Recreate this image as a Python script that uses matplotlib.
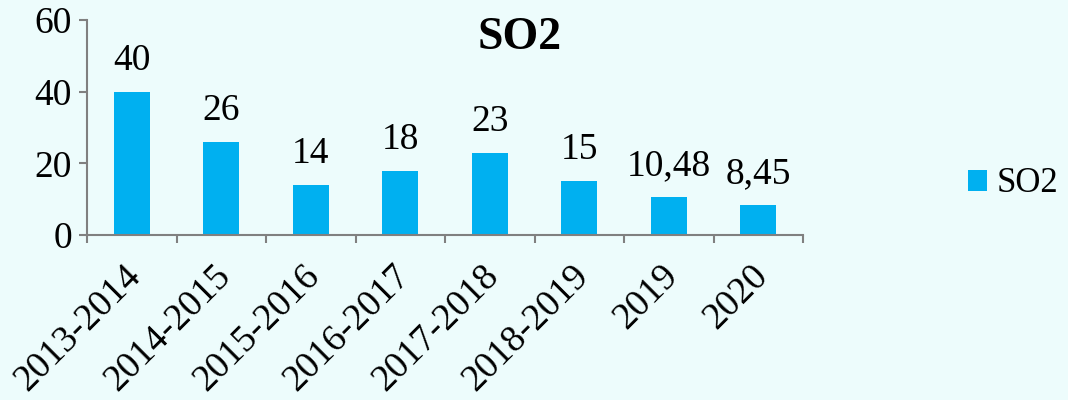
import matplotlib.pyplot as plt
import matplotlib.transforms as mtrans
import numpy as np

categories = ['2013-2014', '2014-2015', '2015-2016', '2016-2017',
              '2017-2018', '2018-2019', '2019', '2020']
so2 = [40, 26, 14, 18, 23, 15, 10.48, 8.45]
labels = ['40', '26', '14', '18', '23', '15', '10,48', '8,45']

bg = '#EDFCFC'
bar_color = '#00B0F0'
grey = '#808080'

plt.rcParams['font.family'] = ['Liberation Serif', 'DejaVu Serif']

fig = plt.figure(figsize=(10.68, 4), dpi=100, facecolor=bg)
ax = fig.add_axes([0.0815, 0.4125, 0.6705, 0.5375])
ax.set_facecolor(bg)

x = np.arange(len(categories))
bars = ax.bar(x, so2, width=0.4, color=bar_color, label='SO2')

for xi, v, lab in zip(x, so2, labels):
    ax.annotate(lab, (xi, v), xytext=(0, 10), textcoords='offset points',
                ha='center', va='bottom', fontsize=27)

ax.set_xlim(-0.5, len(categories) - 0.5)
ax.set_ylim(0, 60)
ax.set_yticks([0, 20, 40, 60])
ax.tick_params(axis='y', labelsize=27, length=6, color=grey, width=1.5, pad=5)

ax.set_xticks(x)
ax.set_xticklabels(categories, rotation=45, ha='right', rotation_mode='anchor', fontsize=27)
ax.tick_params(axis='x', length=0, pad=17)
# nudge the rotated labels a little left
shift = mtrans.ScaledTranslation(-8 / 100, 0, fig.dpi_scale_trans)
for t in ax.get_xticklabels():
    t.set_transform(t.get_transform() + shift)
ax.set_xticks(np.arange(-0.5, len(categories)), minor=True)
ax.tick_params(axis='x', which='minor', length=6, color=grey, width=1.5)

for s in ['top', 'right']:
    ax.spines[s].set_visible(False)
for s in ['left', 'bottom']:
    ax.spines[s].set_color(grey)
    ax.spines[s].set_linewidth(1.5)

fig.text(0.487, 0.905, 'SO2', ha='center', va='center', fontsize=33, fontweight='bold')

fig.legend(handles=[bars], loc='center left', bbox_to_anchor=(0.906, 0.54),
           frameon=False, fontsize=25, handlelength=0.55, handleheight=0.55,
           handletextpad=0.3, borderpad=0, borderaxespad=0)

fig.savefig('out.png', dpi=100, facecolor=bg)
